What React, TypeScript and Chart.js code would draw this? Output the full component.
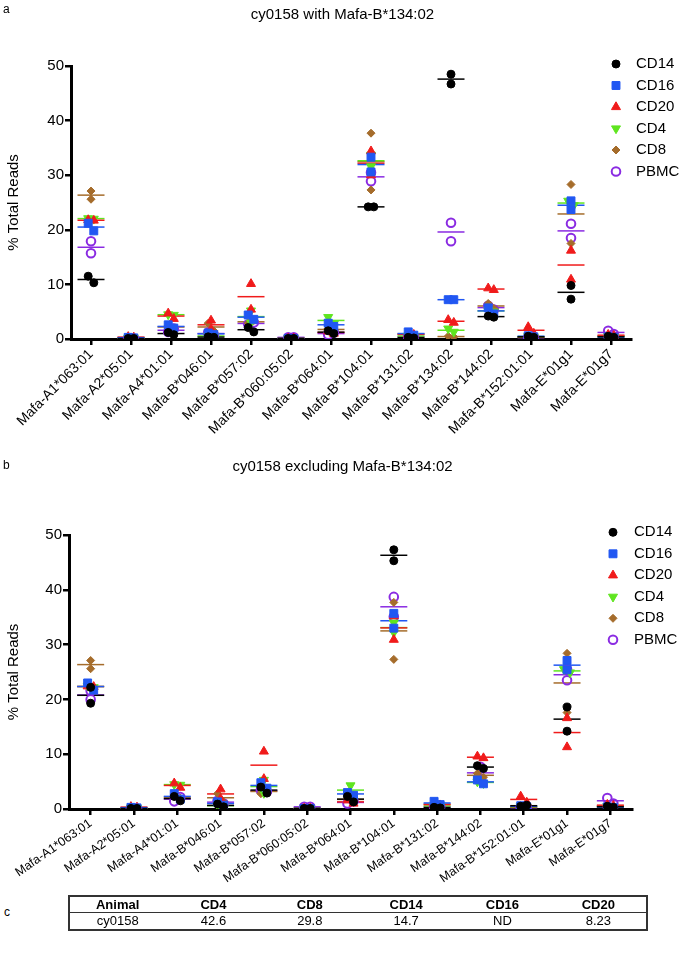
import React, { useEffect, useRef } from 'react';
import { Chart, registerables } from 'chart.js';
import { drawPoint } from 'chart.js/helpers';

Chart.register(...registerables);

const FONT = '"Liberation Sans", Arial, Helvetica, sans-serif';

const CATEGORIES_A = [
  'Mafa-A1*063:01', 'Mafa-A2*05:01', 'Mafa-A4*01:01', 'Mafa-B*046:01', 'Mafa-B*057:02',
  'Mafa-B*060:05:02', 'Mafa-B*064:01', 'Mafa-B*104:01', 'Mafa-B*131:02', 'Mafa-B*134:02',
  'Mafa-B*144:02', 'Mafa-B*152:01:01', 'Mafa-E*01g1', 'Mafa-E*01g7',
];
const CATEGORIES_B = [
  'Mafa-A1*063:01', 'Mafa-A2*05:01', 'Mafa-A4*01:01', 'Mafa-B*046:01', 'Mafa-B*057:02',
  'Mafa-B*060:05:02', 'Mafa-B*064:01', 'Mafa-B*104:01', 'Mafa-B*131:02',
  'Mafa-B*144:02', 'Mafa-B*152:01:01', 'Mafa-E*01g1', 'Mafa-E*01g7',
];
const SERIES = ['CD14', 'CD16', 'CD20', 'CD4', 'CD8', 'PBMC'];
const Y_TICKS = [0, 10, 20, 30, 40, 50];

// Panel a: two replicate values per category
const A_CD14 = [[11.5, 10.3], [0.1, 0.1], [1.2, 0.8], [0.4, 0.3], [2.1, 1.3], [0.1, 0.1], [1.5, 1.0], [24.2, 24.2], [0.3, 0.2], [48.5, 46.7], [4.2, 4.0], [0.5, 0.3], [9.8, 7.3], [0.5, 0.3]];
const A_CD16 = [[21.2, 19.8], [0.3, 0.2], [2.6, 2.0], [1.1, 0.8], [4.4, 3.6], [0.1, 0.1], [2.9, 2.3], [33.3, 30.6], [1.3, 0.7], [7.2, 7.2], [5.7, 4.6], [0.6, 0.4], [25.3, 23.7], [0.4, 0.3]];
const A_CD20 = [[21.8, 21.7], [0.4, 0.3], [4.7, 3.7], [3.4, 1.8], [10.1, 5.4], [0.1, 0.1], [1.4, 1.0], [34.4, 30.0], [0.9, 0.8], [3.5, 3.0], [9.3, 9.0], [2.2, 1.0], [16.2, 10.9], [0.8, 0.6]];
const A_CD4 = [[22.1, 22.0], [0.2, 0.2], [4.5, 4.4], [0.6, 0.5], [5.2, 3.0], [0.1, 0.1], [4.0, 2.8], [33.7, 31.6], [0.6, 0.5], [1.9, 1.3], [5.3, 5.0], [0.5, 0.4], [25.3, 24.5], [0.5, 0.4]];
const A_CD8 = [[27.1, 25.6], [0.1, 0.1], [2.4, 2.0], [2.9, 1.5], [2.9, 3.4], [0.1, 0.1], [1.9, 1.6], [37.7, 27.3], [1.0, 0.8], [0.5, 0.4], [6.5, 5.6], [0.3, 0.3], [28.3, 17.5], [0.7, 0.5]];
const A_PBMC = [[17.9, 15.7], [0.1, 0.1], [1.3, 1.9], [1.2, 0.8], [2.7, 3.0], [0.3, 0.3], [0.8, 1.2], [30.5, 28.9], [0.4, 0.4], [21.3, 17.9], [6.1, 5.4], [0.3, 0.2], [21.1, 18.5], [1.5, 0.9]];

// Panel b: two replicate values per category
const B_CD14 = [[22.2, 19.3], [0.1, 0.1], [2.3, 1.5], [0.9, 0.4], [4.0, 2.9], [0.1, 0.1], [2.3, 1.3], [47.3, 45.3], [0.3, 0.2], [7.9, 7.4], [0.5, 0.7], [18.6, 14.2], [0.5, 0.3]];
const B_CD16 = [[23.0, 21.7], [0.3, 0.2], [2.8, 1.8], [1.3, 0.7], [4.8, 3.8], [0.1, 0.1], [3.0, 2.5], [35.7, 33.0], [1.4, 0.8], [5.3, 4.6], [0.6, 0.4], [27.1, 25.4], [0.4, 0.3]];
const B_CD20 = [[22.4, 22.3], [0.4, 0.3], [4.7, 3.9], [3.6, 1.9], [10.5, 5.5], [0.1, 0.1], [1.6, 1.0], [35.2, 30.9], [0.9, 0.7], [9.6, 9.3], [2.3, 1.2], [16.6, 11.3], [0.8, 0.6]];
const B_CD4 = [[22.5, 22.2], [0.2, 0.2], [4.5, 4.4], [0.7, 0.5], [5.3, 2.9], [0.1, 0.1], [4.3, 2.6], [34.0, 32.2], [0.6, 0.5], [5.0, 4.7], [0.5, 0.4], [25.5, 24.9], [0.5, 0.4]];
const B_CD8 = [[27.1, 25.6], [0.1, 0.1], [2.3, 2.0], [2.8, 1.3], [2.8, 3.6], [0.1, 0.1], [1.9, 1.6], [37.7, 27.3], [1.0, 0.8], [6.5, 5.8], [0.3, 0.3], [28.4, 17.6], [0.7, 0.5]];
const B_PBMC = [[21.6, 20.0], [0.1, 0.1], [1.4, 2.2], [1.5, 1.0], [3.4, 3.2], [0.4, 0.4], [1.0, 1.4], [38.7, 35.1], [0.4, 0.4], [7.7, 5.5], [0.3, 0.2], [25.5, 23.5], [2.0, 1.0]];

const TABLE_HEADERS = ['Animal', 'CD4', 'CD8', 'CD14', 'CD16', 'CD20'];
const TABLE_ROW = ['cy0158', '42.6', '29.8', '14.7', 'ND', '8.23'];

const STYLES = [
  { color: '#000000', fill: '#000000', pointStyle: 'circle', rotation: 0, radius: 4, borderWidth: 1 },
  { color: '#2157f2', fill: '#2157f2', pointStyle: 'rect', rotation: 0, radius: 5.6, borderWidth: 1 },
  { color: '#f01b1b', fill: '#f01b1b', pointStyle: 'triangle', rotation: 0, radius: 5.2, borderWidth: 1 },
  { color: '#5fe51f', fill: '#5fe51f', pointStyle: 'triangle', rotation: 180, radius: 5.2, borderWidth: 1 },
  { color: '#a56c2b', fill: '#a56c2b', pointStyle: 'rectRot', rotation: 0, radius: 4, borderWidth: 1 },
  { color: '#8a2be2', fill: 'rgba(0,0,0,0)', pointStyle: 'circle', rotation: 0, radius: 4.3, borderWidth: 2 },
];

const legendPlugin = {
  id: 'customLegend',
  afterDraw(chart: any, _args: any, opts: any) {
    const ctx = chart.ctx;
    ctx.save();
    SERIES.forEach((name, i) => {
      const st = STYLES[i];
      const y = opts.y + i * opts.gap;
      ctx.fillStyle = st.fill;
      ctx.strokeStyle = st.color;
      ctx.lineWidth = st.borderWidth;
      drawPoint(ctx, { pointStyle: st.pointStyle, rotation: st.rotation, radius: st.radius, borderWidth: st.borderWidth } as any, opts.x, y);
      ctx.fillStyle = '#000';
      ctx.font = `15px ${FONT}`;
      ctx.textAlign = 'left';
      ctx.textBaseline = 'middle';
      ctx.fillText(name, opts.textX, y);
    });
    ctx.restore();
  },
};

function buildDatasets(series: number[][][]) {
  const pointSets = series.map((vals, s) => {
    const st = STYLES[s];
    const data: { x: number; y: number }[] = [];
    vals.forEach(([a, b], i) => {
      const spread = Math.abs(a - b) < 1.5 ? 0.07 : 0;
      data.push({ x: i - spread, y: a });
      data.push({ x: i + spread, y: b });
    });
    return {
      label: SERIES[s],
      data,
      pointStyle: st.pointStyle,
      rotation: st.rotation,
      pointRadius: st.radius,
      pointBackgroundColor: st.fill,
      pointBorderColor: st.color,
      pointBorderWidth: st.borderWidth,
      order: 0,
    };
  });
  const meanSets = series.map((vals, s) => {
    const st = STYLES[s];
    return {
      label: SERIES[s] + ' mean',
      data: vals.map(([a, b], i) => ({ x: i, y: (a + b) / 2 })),
      pointStyle: 'line',
      pointRadius: 13.5,
      pointBorderColor: st.color,
      pointBorderWidth: 1.5,
      order: 1,
    };
  });
  return [...pointSets, ...meanSets];
}

function makeConfig(cats: string[], series: number[][][], lay: any) {
  const axisGrid = {
    display: true,
    drawOnChartArea: false,
    drawTicks: true,
    tickLength: 6,
    lineWidth: 2.5,
    color: '#000',
  };
  const axisBorder = { display: true, color: '#000', width: 3 };
  return {
    type: 'scatter',
    data: { datasets: buildDatasets(series) },
    plugins: [legendPlugin],
    options: {
      animation: false,
      responsive: false,
      events: [],
      layout: { padding: { top: lay.padTop, right: lay.padRight, left: 0, bottom: 0 } },
      plugins: {
        legend: { display: false },
        tooltip: { enabled: false },
        title: { display: false },
        customLegend: lay.legend,
      },
      scales: {
        x: {
          type: 'linear',
          min: -0.5,
          max: cats.length - 0.5,
          afterBuildTicks: (scale: any) => {
            scale.ticks = cats.map((_, i) => ({ value: i }));
          },
          afterFit: (scale: any) => {
            scale.height = lay.xHeight;
          },
          ticks: {
            autoSkip: false,
            minRotation: lay.labelRotation,
            maxRotation: lay.labelRotation,
            padding: 1,
            color: '#000',
            font: { family: FONT, size: lay.labelSize },
            callback: (v: number) => cats[Math.round(v)] ?? '',
          },
          grid: axisGrid,
          border: axisBorder,
        },
        y: {
          type: 'linear',
          min: 0,
          max: 50,
          afterBuildTicks: (scale: any) => {
            scale.ticks = Y_TICKS.map((v) => ({ value: v }));
          },
          afterFit: (scale: any) => {
            scale.width = lay.yWidth;
          },
          ticks: {
            padding: 1,
            color: '#000',
            font: { family: FONT, size: 15 },
          },
          grid: axisGrid,
          border: axisBorder,
          title: {
            display: true,
            text: '% Total Reads',
            color: '#000',
            font: { family: FONT, size: 15 },
            padding: { top: 5, bottom: 0 },
          },
        },
      },
    },
  };
}

function Panel(props: { cats: string[]; series: number[][][]; lay: any; top: number; height: number }) {
  const ref = useRef<HTMLCanvasElement>(null);
  useEffect(() => {
    if (!ref.current) return;
    const chart = new Chart(ref.current, makeConfig(props.cats, props.series, props.lay) as any);
    return () => chart.destroy();
  }, []);
  return (
    <canvas
      ref={ref}
      width={685}
      height={props.height}
      style={{ position: 'absolute', left: 0, top: props.top, width: 685, height: props.height }}
    />
  );
}

const textStyle: React.CSSProperties = { position: 'absolute', fontFamily: FONT, color: '#000', whiteSpace: 'nowrap' };

export default function App() {
  const layA = {
    padTop: 66,
    padRight: 54,
    yWidth: 71,
    xHeight: 121,
    labelRotation: 45,
    labelSize: 14,
    legend: { x: 616, textX: 636, y: 64, gap: 21.5 },
  };
  const layB = {
    padTop: 80,
    padRight: 53,
    yWidth: 69,
    xHeight: 91,
    labelRotation: 35,
    labelSize: 12.5,
    legend: { x: 613, textX: 634, y: 77.3, gap: 21.5 },
  };
  return (
    <div style={{ position: 'absolute', left: 0, top: 0, width: 685, height: 961, background: '#fff', overflow: 'hidden' }}>
      <Panel cats={CATEGORIES_A} series={[A_CD14, A_CD16, A_CD20, A_CD4, A_CD8, A_PBMC]} lay={layA} top={0} height={460} />
      <Panel cats={CATEGORIES_B} series={[B_CD14, B_CD16, B_CD20, B_CD4, B_CD8, B_PBMC]} lay={layB} top={455} height={445} />
      <div style={{ ...textStyle, left: 3, top: 2, fontSize: 12 }}>a</div>
      <div style={{ ...textStyle, left: 0, width: 685, top: 5, fontSize: 15, textAlign: 'center' }}>cy0158 with Mafa-B*134:02</div>
      <div style={{ ...textStyle, left: 3, top: 458, fontSize: 12 }}>b</div>
      <div style={{ ...textStyle, left: 0, width: 685, top: 457, fontSize: 15, textAlign: 'center' }}>cy0158 excluding Mafa-B*134:02</div>
      <div style={{ ...textStyle, left: 4, top: 905, fontSize: 12 }}>c</div>
      <table
        style={{
          position: 'absolute',
          left: 68,
          top: 895,
          width: 580,
          borderCollapse: 'collapse',
          border: '2px solid #333',
          fontFamily: FONT,
          fontSize: 13,
          tableLayout: 'fixed',
          zIndex: 2,
        }}
      >
        <tbody>
          <tr style={{ height: 16 }}>
            {TABLE_HEADERS.map((h) => (
              <td key={h} style={{ textAlign: 'center', fontWeight: 'bold', padding: 0, lineHeight: '15px', borderBottom: '1px solid #333' }}>{h}</td>
            ))}
          </tr>
          <tr style={{ height: 17 }}>
            {TABLE_ROW.map((v, i) => (
              <td key={i} style={{ textAlign: 'center', padding: 0, lineHeight: '16px' }}>{v}</td>
            ))}
          </tr>
        </tbody>
      </table>
    </div>
  );
}
